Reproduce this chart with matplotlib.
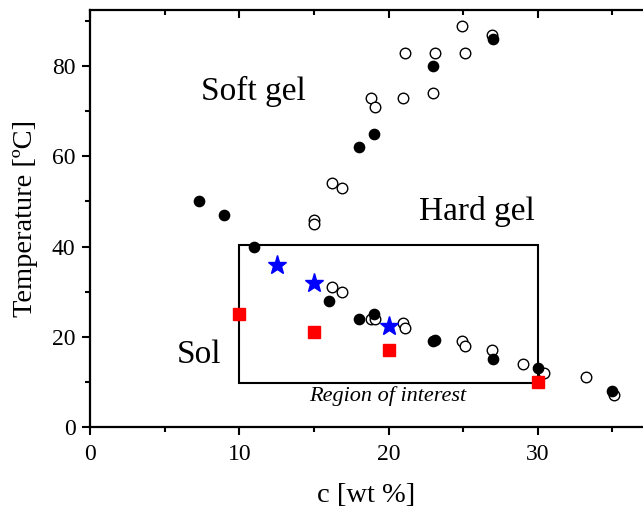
import matplotlib
matplotlib.use("Agg")
import matplotlib.pyplot as plt
from matplotlib.lines import TICKDOWN
from matplotlib.patches import Rectangle
from matplotlib.ticker import MultipleLocator

plt.rcParams['font.family'] = ['Liberation Serif', 'DejaVu Serif']

# transition points measured on heating/cooling (filled) and rheology (open)
filled_c = [7.3, 9, 11, 16, 18, 19, 23, 23.1, 27, 30, 35, 18, 19, 23, 27]
filled_T = [50, 47, 40, 28, 24, 25, 19, 19.2, 15, 13, 8, 62, 65, 80, 86]

open_c = [24.9, 26.9, 21.1, 23.1, 25.1, 18.8, 19.1, 21.0, 23.0, 16.2, 16.9,
          15.0, 15.0, 16.2, 16.9, 18.8, 19.1, 21.0, 21.1, 24.9, 25.1, 26.9,
          29.0, 30.4, 33.2, 35.1]
open_T = [89, 87, 83, 83, 83, 73, 71, 73, 74, 54, 53,
          46, 45, 31, 30, 24, 24, 23, 22, 19, 18, 17,
          14, 12, 11, 7]

# selected formulations
star_c = [12.5, 15, 20]
star_T = [36, 32, 22.3]
square_c = [10, 15, 20, 30]
square_T = [25, 21, 17, 10]

# region of interest bounds
roi_c = (10, 30)
roi_T = (9.8, 40.3)

fig = plt.figure(figsize=(6.43, 5.09), dpi=100)
ax = fig.add_axes([0.14, 0.161, 0.86, 0.819])

ax.add_patch(Rectangle((roi_c[0], roi_T[0]), roi_c[1] - roi_c[0], roi_T[1] - roi_T[0],
                       fill=False, edgecolor='black', linewidth=1.5, zorder=2))

ax.plot(open_c, open_T, 'o', mfc='white', mec='black', mew=1.0, ms=7.6, zorder=3)
ax.plot(filled_c, filled_T, 'o', color='black', ms=7.4, zorder=4)
ax.plot(star_c, star_T, '*', color='#0000ff', ms=14, zorder=5)
ax.plot(square_c, square_T, 's', color='#ff0000', ms=8.6, zorder=5)

ax.text(10.95, 74.4, 'Soft gel', fontsize=24, ha='center', va='center')
ax.text(25.95, 47.7, 'Hard gel', fontsize=24, ha='center', va='center')
ax.text(7.3, 16.1, 'Sol', fontsize=24, ha='center', va='center')
ax.text(19.93, 6.8, 'Region of interest', fontsize=16, style='italic',
        ha='center', va='center')

ax.set_xlim(0, 37.05)
ax.set_ylim(0, 92.4)
ax.xaxis.set_major_locator(MultipleLocator(10))
ax.xaxis.set_minor_locator(MultipleLocator(5))
ax.yaxis.set_major_locator(MultipleLocator(20))
ax.yaxis.set_minor_locator(MultipleLocator(10))

ax.spines['right'].set_visible(False)
for s in ('left', 'bottom', 'top'):
    ax.spines[s].set_linewidth(1.6)

ax.tick_params(which='both', direction='out', width=1.5, labelsize=17,
               top=True, right=False)
ax.tick_params(axis='x', pad=6.5)
ax.tick_params(axis='y', pad=5)
ax.tick_params(which='major', length=5.5)
ax.tick_params(which='minor', length=3.5)
# top ticks point inward
for t in ax.xaxis.get_major_ticks() + ax.xaxis.get_minor_ticks():
    t.tick2line.set_marker(TICKDOWN)

ax.set_xlabel('c [wt %]', fontsize=20.5, labelpad=13.5)
ax.set_ylabel('Temperature [ºC]', fontsize=20.5, labelpad=10)

fig.savefig('out.png', dpi=100)
